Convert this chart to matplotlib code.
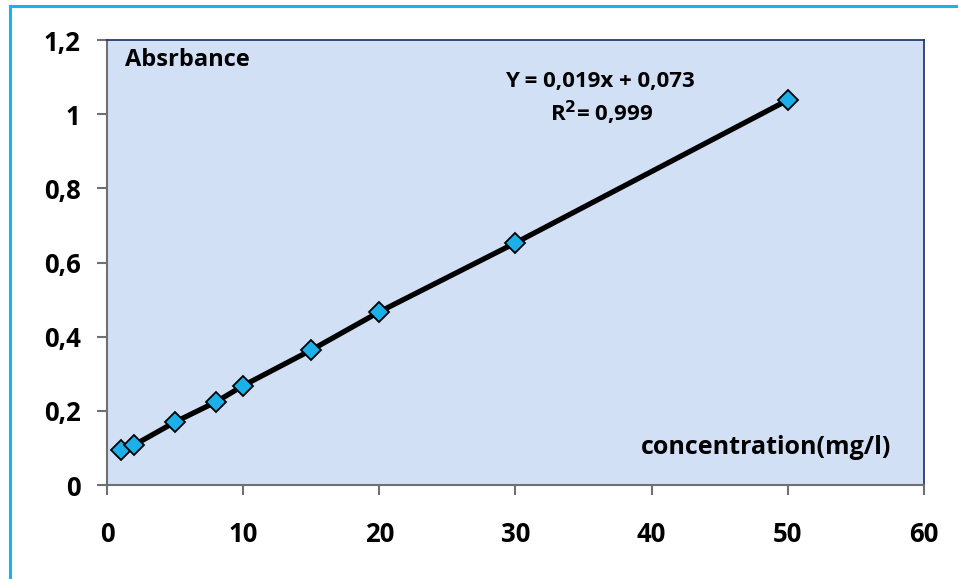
import matplotlib.pyplot as plt
from matplotlib.lines import Line2D

plt.rcParams['font.family'] = ['Open Sans', 'DejaVu Sans']
plt.rcParams['font.weight'] = 'bold'

conc = [1, 2, 5, 8, 10, 15, 20, 30, 50]
absorb = [0.094, 0.108, 0.170, 0.224, 0.268, 0.364, 0.467, 0.653, 1.038]
x_ticks = [0, 10, 20, 30, 40, 50, 60]
y_ticks = [0, 0.2, 0.4, 0.6, 0.8, 1.0, 1.2]
y_labels = ['0', '0,2', '0,4', '0,6', '0,8', '1', '1,2']

fig = plt.figure(figsize=(9.58, 5.79), dpi=100)
ax = fig.add_axes([0.1117, 0.1623, 0.8528, 0.7686])
ax.set_facecolor('#d2e0f6')

ax.plot(conc, absorb, color='black', lw=3.8, zorder=2)
ax.plot(conc, absorb, ls='none', marker='D', ms=10, mfc='#1cb0e8', mec='black', mew=1.3, zorder=3)

ax.set_xlim(0, 60)
ax.set_ylim(0, 1.2)
ax.set_xticks(x_ticks)
ax.set_yticks(y_ticks)
ax.set_yticklabels(y_labels)
ax.tick_params(direction='out', length=7, width=1.5, color='#707070', labelsize=18.5)
ax.tick_params(axis='x', pad=19)
ax.tick_params(axis='y', pad=12)

for s in ['left', 'bottom']:
    ax.spines[s].set_color('#707070')
    ax.spines[s].set_linewidth(1.5)
for s in ['top', 'right']:
    ax.spines[s].set_color('#1a2a6c')
    ax.spines[s].set_linewidth(1.2)

ax.text(1.3, 1.146, 'Absrbance', fontsize=17, fontweight='bold', va='center', ha='left')
ax.text(36.2, 1.087, 'Y = 0,019x + 0,073', fontsize=16, fontweight='bold', va='center', ha='center')
ax.text(36.3, 1.003, 'R$^\\mathbf{2}$= 0,999', fontsize=16, fontweight='bold', va='center', ha='center')
ax.text(57.6, 0.10, 'concentration(mg/l)', fontsize=18, fontweight='bold', va='center', ha='right')

# outer chart border (only top and left visible)
fig.add_artist(Line2D([9.5 / 958, 9.5 / 958], [0, 1 - 6 / 579], color='#16b4ee', lw=2.2))
fig.add_artist(Line2D([9.5 / 958, 1], [1 - 6 / 579, 1 - 6 / 579], color='#16b4ee', lw=2.2))

fig.savefig('out.png', dpi=100)
